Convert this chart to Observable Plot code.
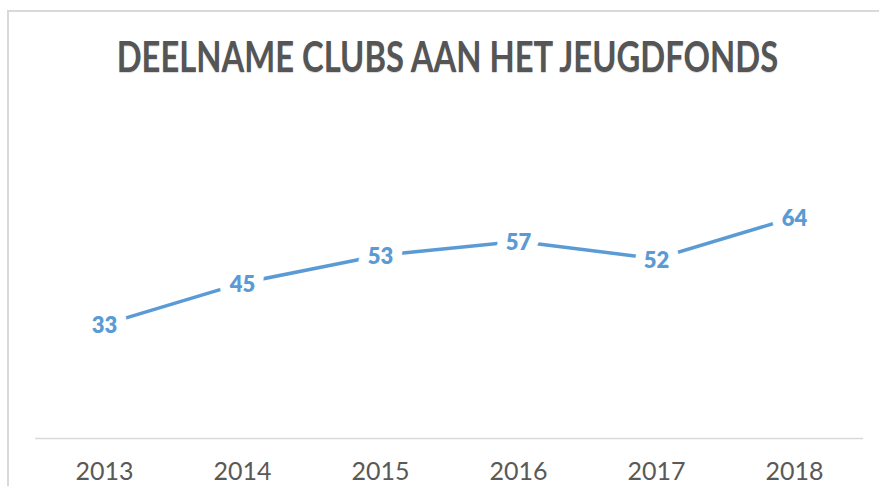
<!DOCTYPE html>
<html>
<head>
<meta charset="utf-8">
<script src="https://cdn.jsdelivr.net/npm/d3@7"></script>
<script src="https://cdn.jsdelivr.net/npm/@observablehq/plot@0.6"></script>
<style>
  html, body { margin: 0; padding: 0; background: #fff; }
  #wrap { position: relative; width: 879px; height: 486px; overflow: hidden; }
  #frame { position: absolute; left: 7px; top: 10px; width: 900px; height: 600px; border-left: 2px solid #d9d9d9; border-top: 2px solid #d9d9d9; box-sizing: border-box; }
  #title { position: absolute; left: 0; width: 895px; top: 31px; text-align: center;
    font-family: Lato, "Open Sans", sans-serif; font-weight: 700; font-size: 42px; color: #555555;
    transform: scaleX(0.78); transform-origin: 447px 0;
    text-shadow: 0 1px 1px rgba(0,0,0,0.15); }
  #chart { position: absolute; left: 0; top: 0; }
</style>
</head>
<body>
<div id="wrap">
  <div id="frame"></div>
  <div id="title">DEELNAME CLUBS AAN HET JEUGDFONDS</div>
  <div id="chart"></div>
</div>
<script>
const years = ["2013", "2014", "2015", "2016", "2017", "2018"];
const clubs = [33, 45, 53, 57, 52, 64];

const data = years.map((y, i) => ({year: y, value: clubs[i]}));

const chart = Plot.plot({
  width: 879,
  height: 486,
  marginLeft: 35,
  marginRight: 16,
  marginTop: 196,
  marginBottom: 48,
  style: {background: "transparent", fontFamily: "Lato, 'Open Sans', sans-serif"},
  x: {type: "point", domain: years, padding: 0.5, label: null},
  y: {domain: [0, 70], axis: null},
  marks: [
    Plot.ruleY([0], {stroke: "#d9d9d9", strokeWidth: 1.5}),
    Plot.axisX({tickSize: 0, tickPadding: 24, fontSize: 25, color: "#595959", label: null}),
    Plot.line(data, {x: "year", y: "value", stroke: "#5B9BD5", strokeWidth: 3.5}),
    Plot.text(data, {x: "year", y: "value", text: d => String(d.value), fill: "#5B9BD5",
      stroke: "white", strokeWidth: 20, fontWeight: 800, fontSize: 22, dy: 2})
  ]
});
document.getElementById("chart").appendChild(chart);
</script>
</body>
</html>
